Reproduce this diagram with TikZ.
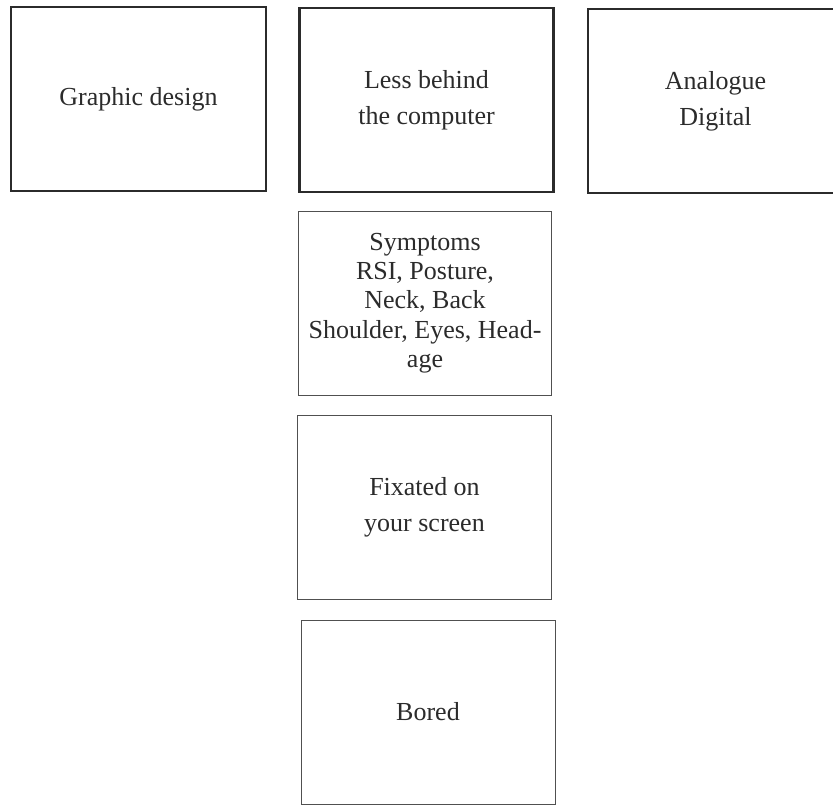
\documentclass[tikz,border=0pt]{standalone}
\usepackage{fontspec}
\setmainfont{Liberation Serif}
\definecolor{inkgray}{HTML}{2B2B2B}
\definecolor{framegray}{HTML}{505050}
\begin{document}
\begin{tikzpicture}[x=1pt,y=-1pt,
  card/.style={rectangle, align=center, text=inkgray, inner sep=0pt,
    minimum width=254pt, minimum height=184pt,
    font=\fontsize{26}{36}\selectfont},
  heavycard/.style={card, draw=inkgray, line width=2.4pt},
  lightcard/.style={card, draw=framegray, line width=0.9pt}]
  \useasboundingbox (0,0) rectangle (833,806);
  \clip (0,0) rectangle (833,806);
  % top row
  \node[heavycard, minimum width=255pt] (design) at (138.5,99) {Graphic design};
  \node[heavycard] (behind) at (426.5,100) {Less behind\\the computer};
  \node[heavycard, minimum width=255pt] (analogue) at (715.5,101) {Analogue\\Digital};
  % column below the middle card
  \node[lightcard, minimum width=253pt, font=\fontsize{26}{29.3}\selectfont]
    (symptoms) at (425,303) {Symptoms\\RSI, Posture,\\Neck, Back\\Shoulder, Eyes, Head-\\age};
  \node[lightcard] (fixated) at (424.5,507) {Fixated on\\your screen};
  \node[lightcard] (bored) at (428,712) {Bored};
\end{tikzpicture}
\end{document}
